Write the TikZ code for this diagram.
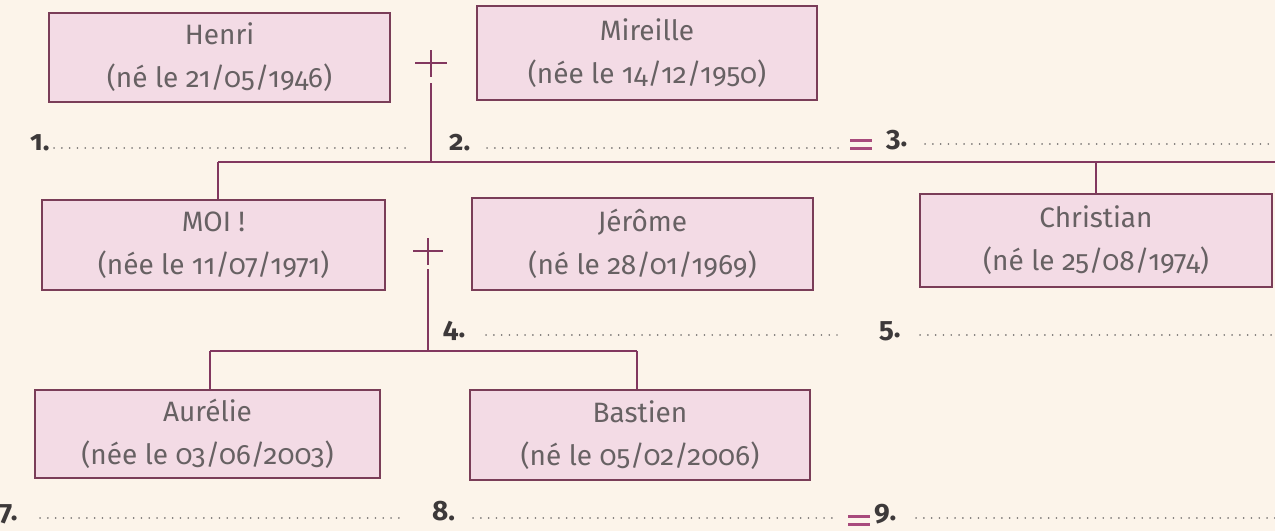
\documentclass[tikz,border=0pt]{standalone}
\usepackage{fontspec}
\setmainfont{Fira Sans}[Numbers=OldStyle]
\definecolor{bg}{HTML}{FCF4EA}
\definecolor{boxfill}{HTML}{F3DBE5}
\definecolor{boxdraw}{HTML}{7A3D58}
\definecolor{conn}{HTML}{82375F}
\definecolor{txt}{HTML}{676163}
\definecolor{numtxt}{HTML}{3D393A}
\definecolor{dots}{HTML}{7E7A78}
\definecolor{eqcol}{HTML}{A84A7C}
\tikzset{
  person/.style={draw=boxdraw, fill=boxfill, line width=1.4pt, inner sep=0pt,
    align=center, text=txt, font=\fontsize{28}{43}\selectfont},
  link/.style={draw=conn, line width=1.8pt},
  plusmark/.style={draw=conn, line width=1.8pt},
  numlabel/.style={anchor=base west, inner sep=0pt, text=numtxt,
    font=\fontsize{28}{28}\selectfont\bfseries},
  dotline/.style={draw=dots, line width=1.7pt, line cap=round, dash pattern=on 0.1pt off 7.7pt},
  eqbar/.style={draw=eqcol, line width=2.8pt}
}
\begin{document}
\begin{tikzpicture}[x=1pt,y=-1pt]
\fill[bg] (0,0) rectangle (1275,531);
\useasboundingbox (0,0) rectangle (1275,531);

% persons
\node[person, minimum width=341pt, minimum height=89pt] (henri) at (219.5,57.5) {Henri\\(né le 21/05/1946)};
\node[person, minimum width=340pt, minimum height=94pt] (mireille) at (647,53) {Mireille\\(née le 14/12/1950)};
\node[person, minimum width=343pt, minimum height=90pt] (moi) at (213.5,245) {MOI !\\(née le 11/07/1971)};
\node[person, minimum width=341pt, minimum height=92pt] (jerome) at (642.5,244) {Jérôme\\(né le 28/01/1969)};
\node[person, minimum width=352pt, minimum height=93pt] (christian) at (1096,240.5) {Christian\\(né le 25/08/1974)};
\node[person, minimum width=345pt, minimum height=88pt] (aurelie) at (207.5,434) {Aurélie\\(née le 03/06/2003)};
\node[person, minimum width=340pt, minimum height=90pt] (bastien) at (640,435) {Bastien\\(né le 05/02/2006)};

% marriage 1
\coordinate (p1) at (431,63);
\draw[plusmark] ([xshift=-16pt]p1) -- ([xshift=16pt]p1);
\draw[plusmark] ([yshift=13pt]p1) -- ([yshift=-14pt]p1);
\coordinate (p1b) at (431,83);
\coordinate (j1) at (431,162);
\coordinate (bar1L) at (218,162);
\coordinate (bar1R) at (1275,162);
\draw[link] (p1b) -- (j1);
\draw[link] (bar1L) -- (bar1R);
\draw[link] (bar1L) -- (bar1L |- moi.north);
\draw[link] (christian.north |- bar1R) -- (christian.north);

% marriage 2
\coordinate (p2) at (428,251);
\draw[plusmark] ([xshift=-15pt]p2) -- ([xshift=15pt]p2);
\draw[plusmark] ([yshift=13pt]p2) -- ([yshift=-14pt]p2);
\coordinate (p2b) at (428,269);
\coordinate (j2) at (428,351);
\coordinate (bar2L) at (210,351);
\coordinate (bar2R) at (637,351);
\draw[link] (p2b) -- (j2);
\draw[link] (bar2L) -- (bar2R);
\draw[link] (bar2L) -- (bar2L |- aurelie.north);
\draw[link] (bar2R) -- (bar2R |- bastien.north);

% row 1 labels
\node[numlabel] (l1) at (30,150) {1.};
\coordinate (d1a) at (54,148); \coordinate (d1b) at (407,148);
\draw[dotline] (d1a) -- (d1b);
\node[numlabel] (l2) at (449,150) {2.};
\coordinate (d2a) at (487,148); \coordinate (d2b) at (840,148);
\draw[dotline] (d2a) -- (d2b);
\coordinate (eq1) at (861,144.5);
\draw[eqbar] ([shift={(-11,-4)}]eq1) -- ([shift={(11,-4)}]eq1);
\draw[eqbar] ([shift={(-11,4)}]eq1) -- ([shift={(11,4)}]eq1);
\node[numlabel] (l3) at (886,146) {3.};
\coordinate (d3a) at (925,144); \coordinate (d3b) at (1275,144);
\draw[dotline] (d3a) -- (d3b);

% row 2 labels
\node[numlabel] (l4) at (443,337) {4.};
\coordinate (d4a) at (486,335); \coordinate (d4b) at (837,335);
\draw[dotline] (d4a) -- (d4b);
\node[numlabel] (l5) at (879,337) {5.};
\coordinate (d5a) at (920,335); \coordinate (d5b) at (1275,335);
\draw[dotline] (d5a) -- (d5b);

% row 3 labels
\node[numlabel] (l7) at (-1,520) {7.};
\coordinate (d7a) at (40,518); \coordinate (d7b) at (400,518);
\draw[dotline] (d7a) -- (d7b);
\node[numlabel] (l8) at (432,520) {8.};
\coordinate (d8a) at (473,518); \coordinate (d8b) at (838,518);
\draw[dotline] (d8a) -- (d8b);
\coordinate (eq2) at (859,520.5);
\draw[eqbar] ([shift={(-11,-4)}]eq2) -- ([shift={(11,-4)}]eq2);
\draw[eqbar] ([shift={(-11,4)}]eq2) -- ([shift={(11,4)}]eq2);
\node[numlabel] (l9) at (874,520) {9.};
\coordinate (d9a) at (916,518); \coordinate (d9b) at (1275,518);
\draw[dotline] (d9a) -- (d9b);
\end{tikzpicture}
\end{document}
